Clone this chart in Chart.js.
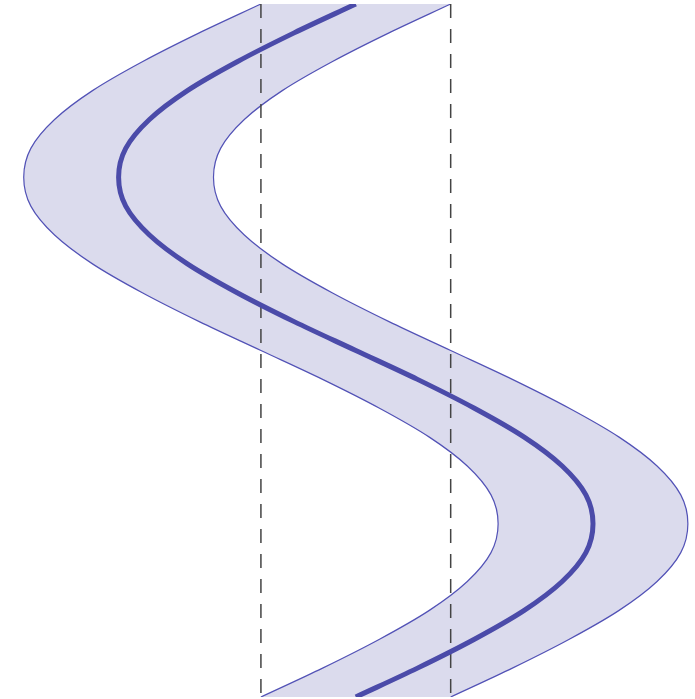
<!DOCTYPE html>
<html>
<head>
<meta charset="utf-8">
<script src="https://cdn.jsdelivr.net/npm/chart.js@4.4.0/dist/chart.umd.min.js"></script>
<style>
  html, body { margin: 0; padding: 0; background: #ffffff; }
  #wrap { width: 695px; height: 699px; }
</style>
</head>
<body>
<div id="wrap"><canvas id="chart"></canvas></div>
<script>
// phase along the vertical axis (degrees), bottom to top
const phase = [0, 15, 30, 45, 60, 75, 90, 105, 120, 135, 150, 165, 180,
  195, 210, 225, 240, 255, 270, 285, 300, 315, 330, 345, 360];
// centre curve
const centre = [0, 0.26, 0.5, 0.71, 0.87, 0.97, 1, 0.97, 0.87, 0.71, 0.5, 0.26, 0,
  -0.26, -0.5, -0.71, -0.87, -0.97, -1, -0.97, -0.87, -0.71, -0.5, -0.26, 0];
// band edges
const lower = [-0.4, -0.14, 0.1, 0.31, 0.47, 0.57, 0.6, 0.57, 0.47, 0.31, 0.1, -0.14, -0.4,
  -0.66, -0.9, -1.11, -1.27, -1.37, -1.4, -1.37, -1.27, -1.11, -0.9, -0.66, -0.4];
const upper = [0.4, 0.66, 0.9, 1.11, 1.27, 1.37, 1.4, 1.37, 1.27, 1.11, 0.9, 0.66, 0.4,
  0.14, -0.1, -0.31, -0.47, -0.57, -0.6, -0.57, -0.47, -0.31, -0.1, 0.14, 0.4];
// dashed guides
const guides = [-0.4, 0.4];

const toPoints = (xs) => xs.map((x, i) => ({ x, y: phase[i] }));
const guideLine = (x) => ({
  data: [{ x, y: 360 }, { x, y: 0 }],
  borderColor: "#444444",
  borderWidth: 1.5,
  borderDash: [14, 11],
  pointRadius: 0,
  tension: 0,
  fill: false,
});

new Chart(document.getElementById("chart"), {
  type: "line",
  data: {
    datasets: [
      {
        data: toPoints(centre),
        borderColor: "#4b4ba9",
        borderWidth: 5,
        pointRadius: 0,
        cubicInterpolationMode: "monotone",
        fill: false,
      },
      guideLine(guides[0]),
      guideLine(guides[1]),
      {
        data: toPoints(lower),
        borderColor: "#5252b6",
        borderWidth: 1.2,
        pointRadius: 0,
        cubicInterpolationMode: "monotone",
        fill: false,
      },
      {
        data: toPoints(upper),
        borderColor: "#5252b6",
        borderWidth: 1.2,
        backgroundColor: "rgba(200, 200, 228, 0.65)",
        pointRadius: 0,
        cubicInterpolationMode: "monotone",
        fill: "-1",
      },
    ],
  },
  options: {
    indexAxis: "y",
    responsive: true,
    maintainAspectRatio: false,
    animation: false,
    layout: { padding: { top: 4, bottom: 2, left: 0, right: 0 } },
    plugins: {
      legend: { display: false },
      tooltip: { enabled: false },
    },
    scales: {
      x: { type: "linear", min: -1.5, max: 1.43, display: false },
      y: { type: "linear", min: 0, max: 360, display: false },
    },
  },
});
</script>
</body>
</html>
